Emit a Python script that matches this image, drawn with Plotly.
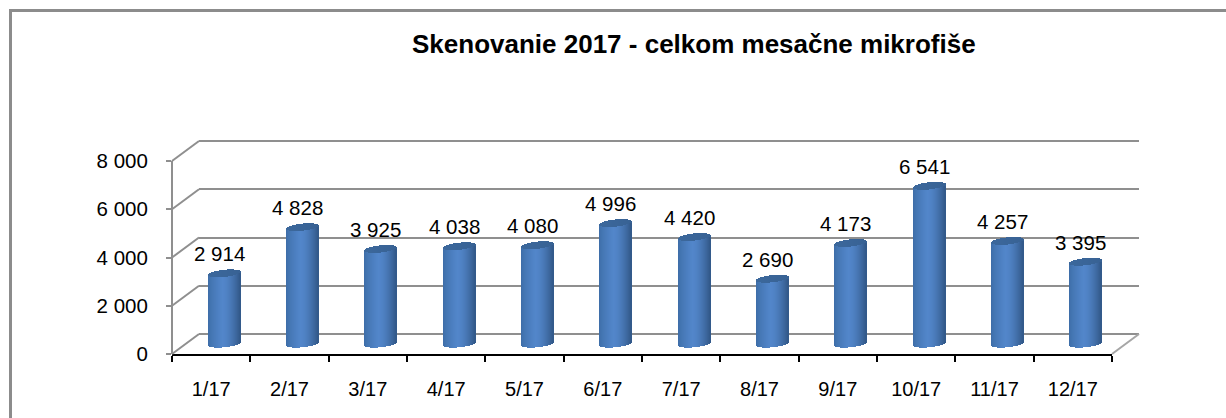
import math
import plotly.graph_objects as go

categories = ["1/17", "2/17", "3/17", "4/17", "5/17", "6/17", "7/17", "8/17", "9/17", "10/17", "11/17", "12/17"]
scans = [2914, 4828, 3925, 4038, 4080, 4996, 4420, 2690, 4173, 6541, 4257, 3395]
y_ticks = [0, 2000, 4000, 6000, 8000]
y_labels = ["0", "2 000", "4 000", "6 000", "8 000"]
title_text = "Skenovanie 2017 - celkom mesačne mikrofiše"

W, H = 1226, 418
FONT = "Liberation Sans"
GRID = "#8f8f8f"
Y_MAX = 8000
PAD = 400


def px(v):
    return v / W


def py(v):
    return 1 - v / H


def blend(a, b, f):
    return "#" + "".join(f"{round(a[i] + (b[i] - a[i]) * f):02x}" for i in range(3))


fig = go.Figure()

fig.add_trace(go.Scatter(x=categories, y=[0] * 12, mode="markers", marker=dict(opacity=0, size=1),
                         hoverinfo="skip", showlegend=False, xaxis="x", yaxis="y"))
fig.add_trace(go.Scatter(x=[0, 1], y=[0, 0], mode="markers", marker=dict(opacity=0, size=1),
                         hoverinfo="skip", showlegend=False, xaxis="x2", yaxis="y2"))

UNITS_PER_PX = Y_MAX / 193
PAD_PX = PAD / UNITS_PER_PX
STRIPS = 32
BAR_W = 32 / (940 / 12)
ELL = 3.6 * UNITS_PER_PX
TILT = 1.6 * UNITS_PER_PX
EDGE_L, MID, EDGE_R = (60, 108, 165), (82, 134, 202), (50, 88, 136)
CAP_L, CAP_R = (60, 104, 156), (56, 98, 148)
for k in range(STRIPS):
    t = -1 + (2 * k + 1) / STRIPS
    if t < -0.1:
        c = blend(EDGE_L, MID, min(1, ((t + 1) / 0.9) ** 0.7))
    else:
        c = blend(MID, EDGE_R, min(1, ((t + 0.1) / 1.1) ** 1.6))
    arc = ELL * math.sqrt(max(0, 1 - t * t))
    off = BAR_W * (t - 1 / STRIPS) / 2
    wid = BAR_W / STRIPS * 1.15
    lift = TILT * t
    fig.add_trace(go.Bar(x=categories, y=list(scans), base=[lift - arc] * 12,
                         offset=off, width=wid, marker=dict(color=c, line=dict(width=0)),
                         hoverinfo="skip", showlegend=False, xaxis="x3", yaxis="y3"))
    fig.add_trace(go.Bar(x=categories, y=[2 * arc] * 12, base=[v - arc + lift for v in scans],
                         offset=off, width=wid, marker=dict(color=blend(CAP_L, CAP_R, (t + 1) / 2), line=dict(width=0)),
                         hoverinfo="skip", showlegend=False, xaxis="x3", yaxis="y3"))

annotations = [
    dict(x=c, y=v, xref="x3", yref="y3", text=f"{v:,}".replace(",", " "), showarrow=False,
         xshift=-5, yshift=20, font=dict(family=FONT, size=20.5, color="#000000"))
    for c, v in zip(categories, scans)
]
annotations.append(dict(x=px(694), y=py(44), xref="paper", yref="paper", text=f"<b>{title_text}</b>",
                        showarrow=False, xanchor="center", yanchor="middle",
                        font=dict(family=FONT, size=26, color="#000000")))

shapes = [dict(type="rect", xref="paper", yref="paper", x0=px(10.5), x1=px(1240), y0=py(440), y1=py(10.5),
               line=dict(color="#8c8c8c", width=3), fillcolor="rgba(0,0,0,0)", layer="below")]
for t in y_ticks:
    front = 354 - t / UNITS_PER_PX
    shapes.append(dict(type="line", xref="paper", yref="paper", x0=px(172), x1=px(199),
                       y0=py(front), y1=py(front - 20), line=dict(color=GRID, width=2), layer="above"))
shapes.append(dict(type="line", xref="paper", yref="paper", x0=px(172), x1=px(172), y0=py(354), y1=py(161),
                   line=dict(color=GRID, width=2), layer="above"))
shapes.append(dict(type="line", xref="paper", yref="paper", x0=px(1112), x1=px(1139), y0=py(354), y1=py(334),
                   line=dict(color="#a6a6a6", width=2), layer="above"))

fig.update_layout(
    width=W, height=H, margin=dict(l=0, r=0, t=0, b=0), autosize=False,
    paper_bgcolor="#ffffff", plot_bgcolor="rgba(0,0,0,0)", showlegend=False, barmode="overlay", bargap=0,
    annotations=annotations, shapes=shapes,
    xaxis=dict(domain=[px(172), px(1112)], type="category", categoryorder="array", categoryarray=categories,
               range=[-0.5, 11.5], tickson="boundaries", ticks="outside", ticklen=6, tickwidth=2, tickcolor="#000000",
               showline=True, linecolor="#000000", linewidth=2, showgrid=False, zeroline=False, automargin=False,
               ticklabelstandoff=16, tickfont=dict(family=FONT, size=20, color="#000000"), anchor="y"),
    yaxis=dict(domain=[py(354), py(161)], range=[0, Y_MAX], tickvals=y_ticks, ticktext=y_labels, ticks="outside",
               ticklen=5, tickwidth=2, tickcolor=GRID, showline=False, showgrid=False, zeroline=False, automargin=False,
               ticklabelstandoff=14, tickfont=dict(family=FONT, size=20.5, color="#000000"), anchor="x"),
    xaxis2=dict(domain=[px(199), px(1139)], range=[0, 1], visible=False, anchor="y2", automargin=False),
    yaxis2=dict(domain=[py(334 + PAD_PX), py(141 - PAD_PX)], range=[-PAD, Y_MAX + PAD], tickvals=y_ticks,
                showticklabels=False, ticks="", showgrid=True, gridcolor=GRID, gridwidth=2, zeroline=False,
                showline=False, anchor="x2", automargin=False),
    xaxis3=dict(domain=[px(185), px(1125)], type="category", categoryorder="array", categoryarray=categories,
                range=[-0.5, 11.5], visible=False, anchor="y3", automargin=False),
    yaxis3=dict(domain=[py(344 + PAD_PX), py(151 - PAD_PX)], range=[-PAD, Y_MAX + PAD], visible=False, anchor="x3",
                automargin=False),
)

fig.write_html("out.html", config=dict(displayModeBar=False),
               post_script="document.body.style.margin='0';document.body.style.overflow='hidden';")
